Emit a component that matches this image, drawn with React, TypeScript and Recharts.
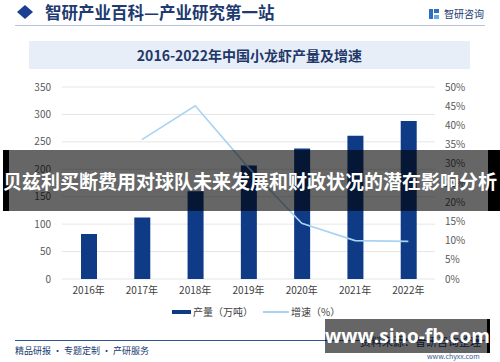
import React from 'react'
import { ComposedChart, Bar, Line, XAxis, YAxis, CartesianGrid } from 'recharts'

const years = ['2016年', '2017年', '2018年', '2019年', '2020年', '2021年', '2022年']
// 产量（万吨）
const output = [82, 112, 160, 207, 238, 261, 288]
// 增速（%）
const growth: (number | null)[] = [null, 36.3, 45.1, 29, 14.5, 10, 9.8]
const leftTicks = [0, 50, 100, 150, 200, 250, 300, 350]
const rightTicks = [0, 5, 10, 15, 20, 25, 30, 35, 40, 45, 50]

const NAVY = '#0e3a86'
const LIGHT = '#a9d3f3'
const CJK = '"Noto Sans CJK SC", "Noto Sans", sans-serif'

const data = years.map((year, i) => ({ year, output: output[i], growth: growth[i] }))

const tickStyle = { fontSize: 10, fill: '#595959', fontFamily: CJK }

export default function App() {
  return (
    <div
      style={{
        position: 'absolute',
        left: 0,
        top: 0,
        width: 500,
        height: 362,
        background: '#fff',
        overflow: 'hidden',
        fontFamily: CJK,
      }}
    >
      {/* header */}
      <svg width={500} height={30} style={{ position: 'absolute', left: 0, top: 0 }}>
        <polygon points="17,12 25,5 33,12 25,19" fill="#1c3f94" />
        <line x1={15} y1={25.5} x2={485} y2={25.5} stroke="#b9c4dc" strokeWidth={1} />
        <rect x={429} y={9} width={4} height={10} fill="#2f6fc0" />
        <rect x={434} y={9} width={5} height={4} fill="#2f6fc0" />
        <rect x={434} y={15} width={5} height={4} fill="#6aa6e0" />
      </svg>
      <div
        style={{
          position: 'absolute',
          left: 45,
          top: 1,
          fontSize: 16.5,
          fontWeight: 700,
          color: '#203a70',
          lineHeight: '22px',
        }}
      >
        智研产业百科—产业研究第一站
      </div>
      <div
        style={{
          position: 'absolute',
          left: 444,
          top: 7,
          fontSize: 10,
          color: '#203a70',
          lineHeight: '14px',
        }}
      >
        智研咨询
      </div>

      {/* title box */}
      <div
        style={{
          position: 'absolute',
          left: 29,
          top: 41,
          width: 441,
          height: 28,
          background: '#e8eef8',
          color: '#1f3868',
          fontSize: 14,
          fontWeight: 700,
          textAlign: 'center',
          lineHeight: '28px',
        }}
      >
        2016-2022年中国小龙虾产量及增速
      </div>

      <div style={{ position: 'absolute', left: 0, top: 0 }}>
        <ComposedChart
          width={500}
          height={362}
          data={data}
          margin={{ top: 87, right: 0, left: 0, bottom: 63 }}
        >
          <CartesianGrid vertical={false} stroke="#e6e6e6" yAxisId="left" />
          <XAxis
            dataKey="year"
            axisLine={false}
            tickLine={false}
            height={20}
            tick={{ ...tickStyle, fill: '#404040' }}
            interval={0}
          />
          <YAxis
            yAxisId="left"
            domain={[0, 350]}
            ticks={leftTicks}
            width={62}
            axisLine={false}
            tickLine={false}
            tickSize={0}
            tickMargin={11}
            tick={tickStyle}
          />
          <YAxis
            yAxisId="right"
            orientation="right"
            domain={[0, 50]}
            ticks={rightTicks}
            width={65}
            axisLine={false}
            tickLine={false}
            tickSize={0}
            tickMargin={10}
            tick={tickStyle}
            tickFormatter={(v: number) => `${v}%`}
          />
          <Bar yAxisId="left" dataKey="output" fill={NAVY} barSize={16} isAnimationActive={false} />
          <Line
            yAxisId="right"
            dataKey="growth"
            type="linear"
            stroke={LIGHT}
            strokeWidth={1.6}
            dot={false}
            isAnimationActive={false}
          />
        </ComposedChart>
      </div>

      {/* legend */}
      <div
        style={{
          position: 'absolute',
          left: 172,
          top: 305,
          display: 'flex',
          alignItems: 'center',
          fontSize: 10,
          color: '#404040',
          lineHeight: '14px',
        }}
      >
        <span style={{ display: 'inline-block', width: 19, height: 4, background: NAVY, marginRight: 2 }} />
        <span>产量（万吨）</span>
        <span style={{ display: 'inline-block', width: 26, height: 2, background: LIGHT, marginLeft: 10, marginRight: 2 }} />
        <span>增速（%）</span>
      </div>

      {/* footer */}
      <div style={{ position: 'absolute', left: 15, top: 340, width: 470, height: 1, background: '#2f5597' }} />
      <div style={{ position: 'absolute', left: 15, top: 344, fontSize: 9, color: '#203a70', lineHeight: '13px' }}>
        精品研报 · 专题定制 · 产研服务
      </div>
      <div style={{ position: 'absolute', left: 360, top: 334, fontSize: 11, color: '#203a70', lineHeight: '15px' }}>
        资料来源：智研咨询整理
      </div>
      <div style={{ position: 'absolute', left: 427, top: 351, fontSize: 7, color: '#3a5a90', lineHeight: '10px' }}>
        www.chyxx.com
      </div>

      {/* overlay banner */}
      <div style={{ position: 'absolute', left: 3, top: 150, width: 6, height: 61, background: '#000' }} />
      <div style={{ position: 'absolute', left: 9, top: 150, width: 479, height: 61, background: 'rgba(0,0,0,0.6)' }} />
      <div style={{ position: 'absolute', left: 488, top: 150, width: 12, height: 61, background: '#000' }} />
      <div
        style={{
          position: 'absolute',
          left: 0,
          top: 150,
          width: 500,
          height: 61,
          color: '#fff',
          fontSize: 19,
          fontWeight: 700,
          textAlign: 'center',
          lineHeight: '61px',
          whiteSpace: 'nowrap',
        }}
      >
        贝兹利买断费用对球队未来发展和财政状况的潜在影响分析
      </div>

      {/* watermark */}
      <div style={{ position: 'absolute', left: 325, top: 319, width: 162, height: 34, background: 'rgba(0,0,0,0.6)' }} />
      <div style={{ position: 'absolute', left: 487, top: 319, width: 3, height: 34, background: '#000' }} />
      <div
        style={{
          position: 'absolute',
          left: 325,
          top: 319,
          width: 162,
          height: 34,
          color: '#fff',
          fontSize: 19,
          fontWeight: 700,
          textAlign: 'center',
          lineHeight: '34px',
          fontFamily: '"Open Sans", "Noto Sans", sans-serif',
          whiteSpace: 'nowrap',
        }}
      >
        www.sino-fb.com
      </div>
    </div>
  )
}
